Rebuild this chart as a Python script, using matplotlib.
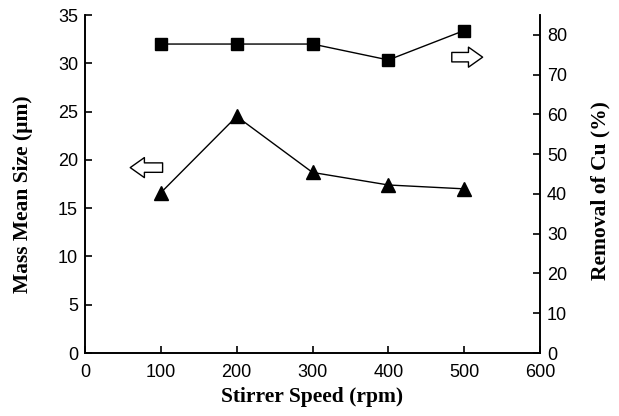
import matplotlib.pyplot as plt
from matplotlib.patches import FancyArrowPatch

speed = [100, 200, 300, 400, 500]
mean_size = [16.6, 24.5, 18.7, 17.4, 17.0]
cu_removal = [77.7, 77.7, 77.7, 73.7, 81.1]

tick_font = {'family': 'Liberation Sans', 'size': 13}
label_font = {'family': 'Liberation Serif', 'size': 15.5, 'weight': 'bold'}


def hollow_arrow(ax, start, end):
    arr = FancyArrowPatch(start, end, arrowstyle='simple,head_width=0.85,head_length=0.6,tail_width=0.4',
                          mutation_scale=17, facecolor='white', edgecolor='black', lw=1.0)
    ax.add_patch(arr)


fig = plt.figure(figsize=(6.19, 4.16), dpi=100)
ax = fig.add_axes([0.1373, 0.1514, 0.7351, 0.8125])
ax2 = ax.twinx()

ax.plot(speed, mean_size, color='black', lw=1.0, marker='^', markersize=10)
ax2.plot(speed, cu_removal, color='black', lw=1.0, marker='s', markersize=9)

ax.set_xlim(0, 600)
ax.set_ylim(0, 35)
ax2.set_ylim(0, 85)
ax.set_xticks(range(0, 601, 100))
ax.set_yticks(range(0, 36, 5))
ax2.set_yticks(range(0, 81, 10))

for a in (ax, ax2):
    a.spines['top'].set_visible(False)
    for s in a.spines.values():
        s.set_linewidth(1.2)
    a.tick_params(direction='in', length=5, width=1.2, pad=5)
    for lab in a.get_xticklabels() + a.get_yticklabels():
        lab.set_fontproperties(tick_font)
ax.tick_params(axis='x', pad=8)

ax.set_xlabel('Stirrer Speed (rpm)', fontdict=label_font, labelpad=4)
ax.set_ylabel('Mass Mean Size (\u00b5m)', fontdict=label_font)
ax2.set_ylabel('Removal of Cu (%)', fontdict=label_font)
ax.yaxis.set_label_coords(-0.114, 0.47)
ax2.yaxis.set_label_coords(1.11, 0.482)

hollow_arrow(ax, (106, 19.2), (56, 19.2))
hollow_arrow(ax2, (480, 74.4), (528, 74.4))

fig.savefig('out.png', dpi=100)
